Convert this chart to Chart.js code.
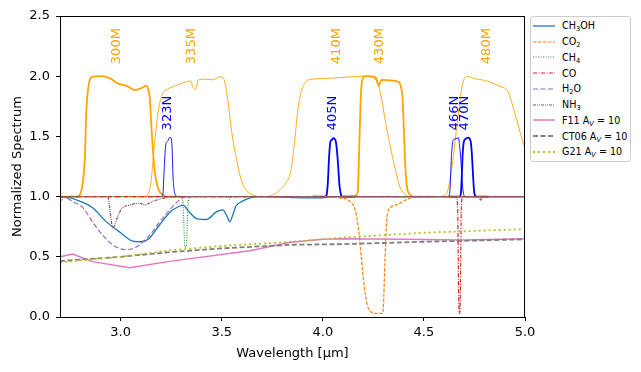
<!DOCTYPE html>
<html>
<head>
<meta charset="utf-8">
<script src="https://cdn.jsdelivr.net/npm/chart.js@4.4.1/dist/chart.umd.min.js"></script>
<style>
  body { margin: 0; background: #fff; }
  #wrap { position: relative; width: 641px; height: 372px; }
  #legend {
    position: absolute; left: 530px; top: 16px; width: 101px; height: 146px;
    border: 1px solid #cccccc; border-radius: 3px; background: #fff;
    font-family: "DejaVu Sans", sans-serif; font-size: 9.6px; color: #000;
    box-sizing: border-box; padding-top: 1px;
  }
  .row { height: 15.75px; display: flex; align-items: center; white-space: nowrap; }
  .row svg { margin-left: 2px; margin-right: 7px; flex: none; }
  sub { font-size: 0.7em; vertical-align: -0.25em; line-height: 0; }
</style>
</head>
<body>
<div id="wrap">
  <canvas id="chart" width="641" height="372"></canvas>
  <div id="legend"></div>
</div>
<script>
// valeurs : [longueur d'onde, spectre normalisé]
const ch3oh = [[2.70,0.995],[2.75,0.99],[2.80,0.96],[2.86,0.91],[2.93,0.79],[3.00,0.70],[3.06,0.63],[3.10,0.625],[3.14,0.65],[3.19,0.76],[3.25,0.88],[3.29,0.92],[3.31,0.93],[3.335,0.88],[3.38,0.815],[3.425,0.81],[3.475,0.875],[3.505,0.89],[3.525,0.84],[3.54,0.79],[3.555,0.85],[3.57,0.92],[3.60,0.96],[3.64,0.99],[3.70,1.0],[3.90,0.99],[4.00,0.99],[4.05,1.0],[5.00,1.0]];
const co2 = [[2.70,0.96],[2.72,0.99],[2.75,1.0],[4.00,1.0],[4.084,0.99],[4.134,0.96],[4.16,0.89],[4.175,0.75],[4.19,0.5],[4.205,0.25],[4.22,0.1],[4.24,0.04],[4.26,0.03],[4.295,0.03],[4.30,0.1],[4.307,0.45],[4.317,0.82],[4.33,0.9],[4.37,0.935],[4.42,0.98],[4.47,1.0],[5.00,1.0]];
const ch4 = [[2.70,1.0],[3.30,1.0],[3.307,0.97],[3.312,0.8],[3.318,0.58],[3.325,0.58],[3.33,0.8],[3.335,0.97],[3.345,1.0],[3.53,1.0],[3.54,0.98],[3.55,1.0],[5.00,1.0]];
const co = [[2.70,1.0],[4.64,1.0],[4.66,0.99],[4.667,0.9],[4.671,0.3],[4.674,0.03],[4.678,0.03],[4.681,0.3],[4.685,0.9],[4.69,0.99],[4.70,1.0],[4.77,1.0],[4.78,0.97],[4.79,1.0],[5.00,1.0]];
const h2o = [[2.70,1.0],[2.73,0.99],[2.762,0.96],[2.812,0.91],[2.861,0.79],[2.911,0.68],[2.96,0.60],[3.02,0.56],[3.054,0.565],[3.094,0.60],[3.144,0.68],[3.193,0.79],[3.243,0.89],[3.282,0.96],[3.307,0.99],[3.35,1.0],[5.00,1.0]];
const nh3 = [[2.70,1.0],[2.93,1.0],[2.94,0.98],[2.95,0.85],[2.96,0.74],[2.97,0.76],[2.985,0.83],[3.005,0.9],[3.044,0.93],[3.094,0.945],[3.119,0.93],[3.158,0.96],[3.208,0.985],[3.26,1.0],[5.00,1.0]];

// courbes d'extinction A_V = 10
const f11 = [[2.70,0.50],[2.762,0.523],[2.861,0.46],[3.044,0.41],[3.243,0.462],[3.639,0.55],[3.84,0.62],[4.00,0.645],[4.10,0.65],[4.40,0.645],[4.70,0.64],[5.00,0.65]];
const ct06 = [[2.70,0.465],[3.00,0.50],[3.25,0.54],[3.50,0.57],[3.85,0.60],[4.10,0.605],[4.50,0.625],[5.00,0.645]];
const g21 = [[2.70,0.455],[3.00,0.50],[3.25,0.555],[3.50,0.59],[3.85,0.625],[4.10,0.66],[4.50,0.70],[5.00,0.73]];

// filtres larges (M) et étroits (N), décalés de +1
const f300M = [[2.70,1.0],[2.78,1.0],[2.80,1.02],[2.815,1.15],[2.823,1.32],[2.83,1.7],[2.842,1.93],[2.86,1.995],[2.90,2.0],[2.95,1.98],[2.985,1.94],[3.03,1.92],[3.07,1.885],[3.10,1.90],[3.128,1.92],[3.138,1.88],[3.145,1.8],[3.152,1.58],[3.168,1.22],[3.18,1.1],[3.193,1.04],[3.21,1.01],[3.23,1.0],[3.30,1.0]];
const f335M = [[3.05,1.0],[3.12,1.0],[3.135,1.02],[3.15,1.12],[3.168,1.45],[3.19,1.75],[3.21,1.86],[3.23,1.89],[3.27,1.92],[3.31,1.945],[3.345,1.96],[3.36,1.9],[3.37,1.89],[3.385,1.97],[3.42,1.975],[3.455,1.97],[3.49,1.995],[3.505,1.99],[3.518,1.93],[3.53,1.8],[3.55,1.53],[3.574,1.30],[3.60,1.12],[3.63,1.04],[3.66,1.01],[3.70,1.0],[3.80,1.0]];
const f410M = [[3.60,1.0],[3.72,1.0],[3.76,1.02],[3.79,1.06],[3.82,1.12],[3.84,1.2],[3.86,1.45],[3.875,1.7],[3.89,1.85],[3.91,1.94],[3.93,1.97],[4.00,1.98],[4.10,1.99],[4.20,2.0],[4.26,2.0],[4.275,1.93],[4.292,1.80],[4.31,1.62],[4.331,1.44],[4.355,1.25],[4.381,1.08],[4.40,1.03],[4.43,1.0],[4.50,1.0]];
const f430M = [[4.10,1.0],[4.15,1.0],[4.165,1.01],[4.173,1.05],[4.18,1.4],[4.187,1.8],[4.195,1.97],[4.21,2.0],[4.25,1.995],[4.265,1.97],[4.277,1.92],[4.29,1.97],[4.33,1.965],[4.371,1.955],[4.385,1.92],[4.395,1.8],[4.402,1.5],[4.408,1.25],[4.416,1.08],[4.43,1.02],[4.45,1.0],[4.55,1.0]];
const f480M = [[4.50,1.0],[4.58,1.0],[4.60,1.01],[4.614,1.03],[4.63,1.15],[4.643,1.3],[4.668,1.66],[4.688,1.91],[4.70,1.98],[4.71,2.0],[4.75,1.98],[4.80,1.965],[4.83,1.95],[4.87,1.92],[4.916,1.87],[4.94,1.75],[4.96,1.63],[4.99,1.45],[5.00,1.40]];
const f323N = [[3.15,1.0],[3.205,1.0],[3.209,1.02],[3.216,1.25],[3.223,1.43],[3.233,1.46],[3.242,1.49],[3.248,1.49],[3.254,1.42],[3.259,1.17],[3.265,1.05],[3.272,1.01],[3.28,1.0],[3.35,1.0]];
const f405N = [[3.95,1.0],[4.012,1.0],[4.018,1.01],[4.025,1.12],[4.031,1.33],[4.038,1.46],[4.044,1.47],[4.051,1.485],[4.058,1.48],[4.064,1.46],[4.07,1.38],[4.076,1.25],[4.082,1.1],[4.088,1.03],[4.095,1.0],[4.16,1.0]];
const f466N = [[4.58,1.0],[4.62,1.0],[4.627,1.02],[4.637,1.36],[4.645,1.47],[4.658,1.48],[4.67,1.49],[4.676,1.43],[4.682,1.32],[4.692,1.07],[4.698,1.01],[4.71,1.0],[4.76,1.0]];
const f470N = [[4.62,1.0],[4.678,1.0],[4.684,1.05],[4.692,1.36],[4.698,1.46],[4.708,1.48],[4.719,1.49],[4.731,1.46],[4.737,1.36],[4.741,1.24],[4.747,1.07],[4.752,1.01],[4.76,1.0],[4.82,1.0]];

// étiquettes des filtres
const wideNames = ['300M', '335M', '410M', '430M', '480M'];
const wideLabelX = [2.98, 3.35, 4.07, 4.28, 4.81];
const narrowNames = ['323N', '405N', '466N', '470N'];
const narrowLabelX = [3.23, 4.05, 4.65, 4.70];

const xTicks = [3.0, 3.5, 4.0, 4.5, 5.0];
const yTicks = [0.0, 0.5, 1.0, 1.5, 2.0, 2.5];

const FONT = '"DejaVu Sans", sans-serif';

function pts(arr) {
  return arr.map(p => ({ x: p[0], y: p[1] }));
}

function line(data, color, width, dash, smooth) {
  return {
    data: pts(data),
    borderColor: color,
    borderWidth: width,
    borderDash: dash || [],
    pointRadius: 0,
    fill: false,
    tension: 0,
    cubicInterpolationMode: smooth === false ? 'default' : 'monotone',
  };
}

const ORANGE = '#ffa500';
const BLUE = '#0000ff';

// Chart.js dessine le premier dataset au-dessus : ordre inverse de matplotlib
const datasets = [
  line(g21, '#bcbd22', 1.8, [2, 3], false),
  line(ct06, '#7f7f7f', 1.8, [5, 2.5], false),
  line(f11, '#e377c2', 1.5, [], false),
  line(nh3, '#8c564b', 1.2, [3, 1, 1, 1, 1, 1]),
  line(h2o, '#9467bd', 1.2, [5, 2.5]),
  line(co, '#d62728', 1.2, [4, 1.5, 1, 1.5]),
  line(ch4, '#2ca02c', 1.2, [1, 1.5]),
  line(co2, '#ff7f0e', 1.2, [3.5, 1.5]),
  line(ch3oh, '#1f77b4', 1.3),
  line(f470N, BLUE, 1.8),
  line(f466N, BLUE, 0.9),
  line(f405N, BLUE, 1.8),
  line(f323N, BLUE, 0.9),
  line(f480M, ORANGE, 0.9),
  line(f430M, ORANGE, 1.8),
  line(f410M, ORANGE, 0.9),
  line(f335M, ORANGE, 0.9),
  line(f300M, ORANGE, 1.8),
];

// cadre + étiquettes verticales des filtres
const extras = {
  id: 'extras',
  afterDatasetsDraw(chart) {
    const { ctx, chartArea, scales } = chart;
    ctx.save();
    ctx.strokeStyle = '#000';
    ctx.lineWidth = 1;
    ctx.strokeRect(chartArea.left + 0.5, chartArea.top + 0.5,
      chartArea.right - chartArea.left - 1, chartArea.bottom - chartArea.top);
    ctx.font = '13px ' + FONT;
    ctx.textAlign = 'left';
    ctx.textBaseline = 'middle';
    function vtext(txt, xv, yv, color) {
      ctx.save();
      ctx.translate(scales.x.getPixelForValue(xv), scales.y.getPixelForValue(yv));
      ctx.rotate(-Math.PI / 2);
      ctx.fillStyle = color;
      ctx.fillText(txt, 0, 0);
      ctx.restore();
    }
    wideNames.forEach((n, i) => vtext(n, wideLabelX[i], 2.1, ORANGE));
    narrowNames.forEach((n, i) => vtext(n, narrowLabelX[i], 1.55, BLUE));
    ctx.restore();
  }
};

new Chart(document.getElementById('chart'), {
  type: 'line',
  data: { datasets },
  options: {
    responsive: false,
    animation: false,
    layout: { padding: { left: 0, right: 116, top: 16, bottom: 0 } },
    plugins: { legend: { display: false }, tooltip: { enabled: false } },
    scales: {
      x: {
        type: 'linear',
        min: 2.7,
        max: 5.0,
        afterBuildTicks: s => { s.ticks = xTicks.map(v => ({ value: v })); },
        afterFit: s => { s.height = 55; },
        grid: { drawOnChartArea: false, drawTicks: true, tickLength: 4, color: '#000' },
        border: { display: false },
        ticks: { color: '#000', font: { family: FONT, size: 13 }, padding: 4, maxRotation: 0,
          callback: v => v.toFixed(1) },
        title: { display: true, text: 'Wavelength [μm]', color: '#000',
          font: { family: FONT, size: 13 }, padding: { top: 0, bottom: 11 } },
      },
      y: {
        min: 0,
        max: 2.5,
        afterBuildTicks: s => { s.ticks = yTicks.map(v => ({ value: v })); },
        afterFit: s => { s.width = 60; },
        grid: { drawOnChartArea: false, drawTicks: true, tickLength: 4, color: '#000' },
        border: { display: false },
        ticks: { color: '#000', font: { family: FONT, size: 13 }, padding: 6,
          callback: v => v.toFixed(1) },
        title: { display: true, text: 'Normalized Spectrum', color: '#000',
          font: { family: FONT, size: 13 }, padding: { top: 10, bottom: 0 } },
      },
    },
  },
  plugins: [extras],
});

// légende HTML (pour les indices)
const legendItems = [
  ['CH<sub>3</sub>OH', '#1f77b4', 1.3, ''],
  ['CO<sub>2</sub>', '#ff7f0e', 1.2, '3.5 1.5'],
  ['CH<sub>4</sub>', '#2ca02c', 1.2, '1 1.5'],
  ['CO', '#d62728', 1.2, '4 1.5 1 1.5'],
  ['H<sub>2</sub>O', '#9467bd', 1.2, '5 2.5'],
  ['NH<sub>3</sub>', '#8c564b', 1.2, '3 1 1 1 1 1'],
  ['F11 A<sub><i>V</i></sub> = 10', '#e377c2', 1.5, ''],
  ['CT06 A<sub><i>V</i></sub> = 10', '#7f7f7f', 1.8, '5 2.5'],
  ['G21 A<sub><i>V</i></sub> = 10', '#bcbd22', 1.8, '2 3'],
];
document.getElementById('legend').innerHTML = legendItems.map(it =>
  `<div class="row"><svg width="22" height="6"><line x1="0" y1="3" x2="22" y2="3" stroke="${it[1]}" stroke-width="${it[2]}" stroke-dasharray="${it[3]}"/></svg><span>${it[0]}</span></div>`
).join('');
</script>
</body>
</html>
